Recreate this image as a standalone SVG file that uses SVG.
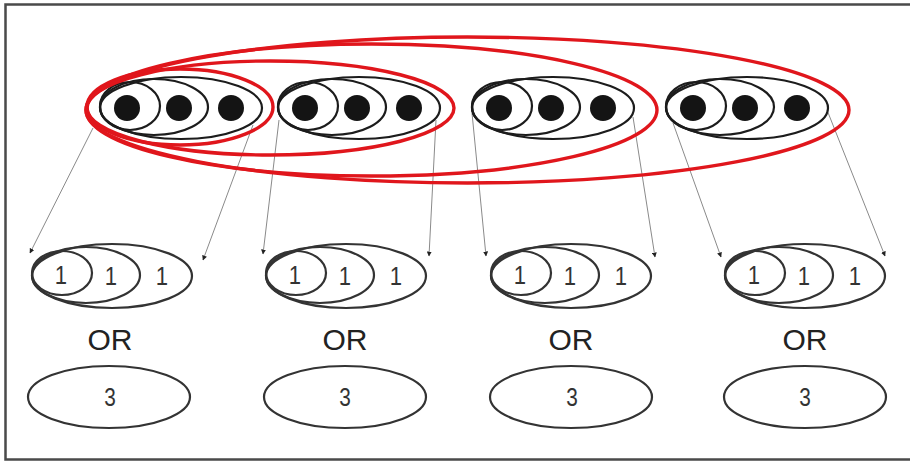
<svg xmlns="http://www.w3.org/2000/svg" width="910" height="462" viewBox="0 0 910 462">
  <style>
    .frame { fill: none; stroke: #4a4a4a; stroke-width: 2.5; }
    .blk { fill: none; stroke: #1c1c1c; stroke-width: 2.2; }
    .dot { fill: #141414; }
    .red { fill: none; stroke: #e0161c; stroke-width: 3.4; }
    .out { fill: none; stroke: #333; stroke-width: 2.2; }
    .wire { fill: none; stroke: #8a8a8a; stroke-width: 1; marker-end: url(#tip); }
    .num { font-family: "Liberation Sans", Arial, sans-serif; font-size: 26px; fill: #333; text-anchor: middle; }
    .or { font-family: "Liberation Sans", Arial, sans-serif; font-size: 30px; fill: #222; text-anchor: middle; }
  </style>
  <defs>
    <marker id="tip" viewBox="0 0 10 10" refX="9" refY="5" markerWidth="5" markerHeight="5" orient="auto" markerUnits="userSpaceOnUse">
      <path d="M0,0 L10,5 L0,10 z" fill="#222"/>
    </marker>
    <!-- three nested source ellipses with one dot each, left edge at x=0 -->
    <g id="triple">
      <ellipse class="blk" cx="81" cy="0" rx="81" ry="31"/>
      <ellipse class="blk" cx="54" cy="-1" rx="54" ry="28"/>
      <ellipse class="blk" cx="30" cy="-2" rx="30" ry="24"/>
      <circle class="dot" cx="27" cy="0" r="13"/>
      <circle class="dot" cx="79" cy="0" r="13"/>
      <circle class="dot" cx="131" cy="0" r="13"/>
    </g>
    <!-- nested result ellipses for the 1 1 1 split, left edge at x=0 -->
    <g id="ones">
      <ellipse class="out" cx="80" cy="0" rx="80" ry="32"/>
      <ellipse class="out" cx="54" cy="-1" rx="54" ry="28"/>
      <ellipse class="out" cx="30" cy="-3" rx="30" ry="22"/>
    </g>
  </defs>

  <rect width="910" height="462" fill="#fff"/>
  <path class="frame" d="M912,4.5 H5.5 V459.5 H912"/>

  <g id="connectors">
    <line class="wire" x1="93" y1="128" x2="30" y2="253"/>
    <line class="wire" x1="253" y1="125" x2="203" y2="260"/>
    <line class="wire" x1="279" y1="120" x2="263" y2="254"/>
    <line class="wire" x1="436" y1="120" x2="429" y2="256"/>
    <line class="wire" x1="472" y1="113" x2="486" y2="256"/>
    <line class="wire" x1="633" y1="117" x2="655" y2="257"/>
    <line class="wire" x1="673" y1="123" x2="721" y2="257"/>
    <line class="wire" x1="827" y1="110" x2="885" y2="256"/>
  </g>

  <g id="src1"><use href="#triple" x="100" y="108"/></g>
  <g id="src2"><use href="#triple" x="278" y="108"/></g>
  <g id="src3"><use href="#triple" x="472" y="108"/></g>
  <g id="src4"><use href="#triple" x="666" y="108"/></g>

  <g id="span1"><ellipse class="red" cx="180" cy="107" rx="93" ry="38"/></g>
  <g id="span2"><ellipse class="red" cx="270.5" cy="108" rx="183.5" ry="47"/></g>
  <g id="span3"><ellipse class="red" cx="371.5" cy="110" rx="285.5" ry="66"/></g>
  <g id="span4"><ellipse class="red" cx="467.5" cy="110" rx="381.5" ry="73"/></g>

  <g id="res1">
    <use href="#ones" x="32" y="276"/>
    <text class="num" x="61" y="284" transform="translate(61 0) scale(0.85 1) translate(-61 0)">1</text>
    <text class="num" x="111" y="285" transform="translate(111 0) scale(0.85 1) translate(-111 0)">1</text>
    <text class="num" x="162" y="285" transform="translate(162 0) scale(0.85 1) translate(-162 0)">1</text>
    <text class="or" x="110" y="350">OR</text>
    <ellipse class="out" cx="109" cy="397" rx="81" ry="31"/>
    <text class="num" x="110" y="406" transform="translate(110 0) scale(0.8 1) translate(-110 0)">3</text>
  </g>
  <g id="res2">
    <use href="#ones" x="266" y="276"/>
    <text class="num" x="295" y="284" transform="translate(295 0) scale(0.85 1) translate(-295 0)">1</text>
    <text class="num" x="345" y="285" transform="translate(345 0) scale(0.85 1) translate(-345 0)">1</text>
    <text class="num" x="396" y="285" transform="translate(396 0) scale(0.85 1) translate(-396 0)">1</text>
    <text class="or" x="345" y="350">OR</text>
    <ellipse class="out" cx="345" cy="397" rx="81" ry="31"/>
    <text class="num" x="345" y="406" transform="translate(345 0) scale(0.8 1) translate(-345 0)">3</text>
  </g>
  <g id="res3">
    <use href="#ones" x="491" y="276"/>
    <text class="num" x="520" y="284" transform="translate(520 0) scale(0.85 1) translate(-520 0)">1</text>
    <text class="num" x="570" y="285" transform="translate(570 0) scale(0.85 1) translate(-570 0)">1</text>
    <text class="num" x="621" y="285" transform="translate(621 0) scale(0.85 1) translate(-621 0)">1</text>
    <text class="or" x="571" y="350">OR</text>
    <ellipse class="out" cx="571" cy="397" rx="81" ry="31"/>
    <text class="num" x="572" y="406" transform="translate(572 0) scale(0.8 1) translate(-572 0)">3</text>
  </g>
  <g id="res4">
    <use href="#ones" x="725" y="276"/>
    <text class="num" x="754" y="284" transform="translate(754 0) scale(0.85 1) translate(-754 0)">1</text>
    <text class="num" x="804" y="285" transform="translate(804 0) scale(0.85 1) translate(-804 0)">1</text>
    <text class="num" x="855" y="285" transform="translate(855 0) scale(0.85 1) translate(-855 0)">1</text>
    <text class="or" x="805" y="350">OR</text>
    <ellipse class="out" cx="805" cy="397" rx="81" ry="31"/>
    <text class="num" x="805" y="406" transform="translate(805 0) scale(0.8 1) translate(-805 0)">3</text>
  </g>
</svg>
